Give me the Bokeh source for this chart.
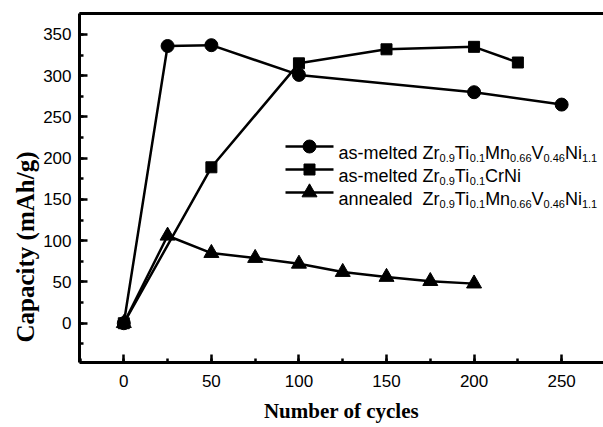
from bokeh.plotting import figure
from bokeh.models import (Range1d, LinearAxis, FixedTicker, Label, Title,
                          SingleIntervalTicker)
from bokeh.embed import file_html
from bokeh.resources import INLINE

# ---------------- data ----------------
cycles_melted_mnv = [0, 25, 50, 100, 200, 250]
capacity_melted_mnv = [0, 336, 337, 301, 280, 265]

cycles_melted_crni = [0, 50, 100, 150, 200, 225]
capacity_melted_crni = [0, 189, 315, 332, 335, 316]

cycles_annealed = [0, 25, 50, 75, 100, 125, 150, 175, 200]
capacity_annealed = [0, 106, 85, 79, 72, 62, 56, 51, 48]

# legend text as (text, is_subscript) pieces
legend_melted_mnv = [("as-melted Zr", 0), ("0.9", 1), ("Ti", 0), ("0.1", 1), ("Mn", 0),
                     ("0.66", 1), ("V", 0), ("0.46", 1), ("Ni", 0), ("1.1", 1)]
legend_melted_crni = [("as-melted Zr", 0), ("0.9", 1), ("Ti", 0), ("0.1", 1), ("CrNi", 0)]
legend_annealed = [("annealed\u00a0 Zr", 0), ("0.9", 1), ("Ti", 0), ("0.1", 1), ("Mn", 0),
                   ("0.66", 1), ("V", 0), ("0.46", 1), ("Ni", 0), ("1.1", 1)]

x_title = "Number of cycles"
y_title = "Capacity (mAh/g)"

# ---------------- layout ----------------
W, H = 603, 427
BL, BR, BT, BB = 79, 0, 13, 65
X0, X1 = -25.3, 273.9
Y0, Y1 = -47.6, 375.4
FW, FH = W - BL - BR, H - BT - BB


def px2data(px, py):
    return (X0 + (px - BL) * (X1 - X0) / FW,
            Y0 + (H - BB - py) * (Y1 - Y0) / FH)


# Arial / Liberation Sans advance widths (per 1000 em)
AFM = {'a': 556, 's': 500, '-': 333, 'm': 833, 'e': 556, 'l': 222, 't': 278,
       'd': 556, 'Z': 611, 'r': 333, 'T': 611, 'i': 222, 'M': 833, 'n': 556,
       'V': 667, 'N': 722, 'C': 722, ' ': 278, '\u00a0': 278, '.': 278}
for dgt in "0123456789":
    AFM[dgt] = 556


def text_w(s, size):
    return sum(AFM.get(c, 556) for c in s) * size / 1000.0


p = figure(width=W, height=H, x_range=Range1d(X0, X1), y_range=Range1d(Y0, Y1),
           output_backend="svg", toolbar_location=None,
           min_border_left=BL, min_border_right=BR, min_border_top=BT,
           min_border_bottom=BB)
p.outline_line_color = None
p.grid.visible = False
p.background_fill_color = "white"
p.border_fill_color = "white"

for ax in (p.xaxis[0], p.yaxis[0]):
    ax.ticker = SingleIntervalTicker(interval=50, num_minor_ticks=2)
    ax.axis_line_width = 3
    ax.axis_line_color = "black"
    ax.major_tick_line_width = 2.5
    ax.minor_tick_line_width = 2.5
    ax.major_tick_in = 8
    ax.major_tick_out = 0
    ax.minor_tick_in = 4
    ax.minor_tick_out = 0
    ax.major_label_text_font = "Liberation Sans"
    ax.major_label_text_font_size = "17px"
    ax.major_label_text_color = "black"
p.yaxis[0].major_label_standoff = 8
p.xaxis[0].major_label_standoff = 12

xa = p.xaxis[0]
xa.axis_label = x_title
xa.axis_label_text_font = "Liberation Serif"
xa.axis_label_text_font_style = "bold"
xa.axis_label_text_font_size = "21px"
xa.axis_label_text_color = "black"
xa.axis_label_standoff = 9

top = LinearAxis(ticker=FixedTicker(ticks=[]), axis_line_width=3,
                 axis_line_color="black", major_tick_line_color=None,
                 minor_tick_line_color=None, major_label_text_font_size="0px")
p.add_layout(top, "above")

p.add_layout(Title(text=y_title, text_font="Liberation Serif", text_font_style="bold",
                   text_font_size="25px", text_color="black", align="left",
                   offset=20, standoff=4), "left")

LW = 2.5
p.line(cycles_melted_mnv, capacity_melted_mnv, line_width=LW, color="black")
p.scatter(cycles_melted_mnv, capacity_melted_mnv, marker="circle", size=13, color="black")
p.line(cycles_annealed, capacity_annealed, line_width=LW, color="black")
p.scatter(cycles_annealed, capacity_annealed, marker="triangle", size=15, color="black")
p.line(cycles_melted_crni, capacity_melted_crni, line_width=LW, color="black")
p.scatter(cycles_melted_crni, capacity_melted_crni, marker="square", size=11, color="black")

# legend (samples + text with subscripts)
MAIN, SUB = 18, 11
row_y = [146, 169, 192]
markers = [("circle", 13), ("square", 11), ("triangle", 15)]
text_x0 = 338
for pieces, ry, (mk, ms) in zip([legend_melted_mnv, legend_melted_crni, legend_annealed],
                                row_y, markers):
    xa_, ya_ = px2data(285, ry)
    xb_, _ = px2data(333, ry)
    xm_, _ = px2data(309, ry)
    p.line([xa_, xb_], [ya_, ya_], line_width=LW, color="black")
    p.scatter([xm_], [ya_], marker=mk, size=ms, color="black")
    ax_, ay_ = px2data(text_x0, ry + 6)
    off = 0.0
    for txt, sub in pieces:
        size = SUB if sub else MAIN
        p.add_layout(Label(x=ax_, y=ay_, x_offset=off, y_offset=-5 if sub else 0,
                           text=txt, text_font="Liberation Sans",
                           text_font_size=f"{size}px", text_color="black",
                           text_baseline="alphabetic", text_align="left"))
        off += text_w(txt, size)

open("out.html", "w").write(file_html(p, INLINE))
